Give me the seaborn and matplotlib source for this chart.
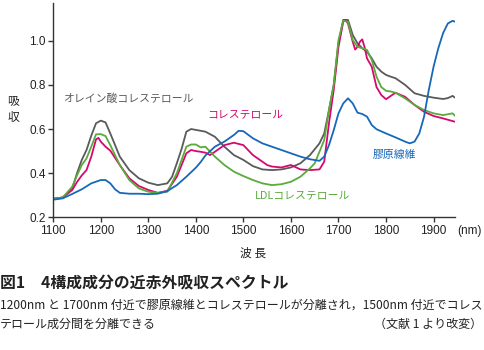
import matplotlib
matplotlib.use('Agg')
import matplotlib.pyplot as plt
import pandas as pd
import seaborn as sns

# ----------------------------------------------------------------------------------------------------------------------
# Data (wavelength nm, absorbance)

oleic_nm = [1100, 1120, 1140, 1150, 1160, 1170, 1180, 1190, 1200, 1210, 1220, 1240, 1260, 1280, 1300, 1320, 1340,
            1350, 1360, 1370, 1380, 1390, 1400, 1420, 1440, 1460, 1480, 1500, 1520, 1540, 1560, 1580, 1600, 1620,
            1640, 1660, 1670, 1680, 1690, 1700, 1710, 1720, 1730, 1740, 1750, 1760, 1770, 1780, 1790, 1800, 1810,
            1820, 1840, 1860, 1880, 1900, 1920, 1930, 1940, 1945]
oleic_abs = [0.285, 0.29, 0.33, 0.40, 0.46, 0.505, 0.57, 0.626, 0.638, 0.63, 0.58, 0.475, 0.414, 0.377, 0.357, 0.346,
             0.354, 0.384, 0.445, 0.51, 0.588, 0.60, 0.596, 0.588, 0.565, 0.52, 0.482, 0.46, 0.432, 0.417, 0.414,
             0.417, 0.426, 0.445, 0.482, 0.535, 0.58, 0.686, 0.80, 0.99, 1.094, 1.094, 1.026, 0.988, 0.966, 0.95,
             0.92, 0.882, 0.86, 0.845, 0.837, 0.83, 0.80, 0.762, 0.75, 0.742, 0.736, 0.74, 0.75, 0.742]

chol_nm = [1100, 1120, 1140, 1150, 1160, 1170, 1180, 1190, 1195, 1200, 1210, 1220, 1240, 1260, 1280, 1300, 1320, 1340,
           1360, 1370, 1380, 1390, 1400, 1410, 1420, 1430, 1440, 1460, 1480, 1500, 1520, 1540, 1550, 1560, 1580, 1600,
           1620, 1640, 1660, 1670, 1680, 1690, 1700, 1710, 1715, 1720, 1730, 1735, 1740, 1745, 1750, 1755, 1760, 1770,
           1780, 1790, 1800, 1810, 1820, 1840, 1860, 1880, 1900, 1920, 1945]
chol_abs = [0.283, 0.29, 0.324, 0.36, 0.39, 0.414, 0.475, 0.553, 0.56, 0.543, 0.52, 0.502, 0.437, 0.377, 0.342, 0.324,
            0.311, 0.32, 0.384, 0.437, 0.49, 0.505, 0.50, 0.497, 0.493, 0.482, 0.497, 0.527, 0.538, 0.527, 0.482,
            0.452, 0.437, 0.43, 0.426, 0.437, 0.417, 0.414, 0.417, 0.452, 0.626, 0.777, 0.972, 1.086, 1.094, 1.078,
            0.995, 0.96, 0.972, 0.995, 1.006, 0.97, 0.92, 0.882, 0.79, 0.754, 0.735, 0.75, 0.764, 0.746, 0.709,
            0.678, 0.659, 0.648, 0.633]

ldl_nm = [1100, 1120, 1140, 1150, 1160, 1170, 1180, 1190, 1200, 1210, 1220, 1240, 1260, 1280, 1300, 1320, 1340, 1360,
          1370, 1380, 1390, 1400, 1410, 1420, 1440, 1460, 1480, 1500, 1520, 1540, 1560, 1580, 1600, 1620, 1640, 1650,
          1660, 1670, 1680, 1690, 1700, 1710, 1720, 1730, 1740, 1750, 1760, 1770, 1780, 1790, 1800, 1810, 1820, 1840,
          1860, 1880, 1900, 1920, 1940, 1945]
ldl_abs = [0.283, 0.29, 0.339, 0.39, 0.437, 0.467, 0.52, 0.576, 0.577, 0.568, 0.527, 0.437, 0.369, 0.331, 0.316,
           0.311, 0.316, 0.40, 0.46, 0.52, 0.53, 0.53, 0.517, 0.52, 0.475, 0.437, 0.407, 0.387, 0.369, 0.354, 0.346,
           0.35, 0.361, 0.384, 0.422, 0.445, 0.497, 0.55, 0.686, 0.80, 1.003, 1.09, 1.086, 1.003, 0.972, 0.966,
           0.958, 0.913, 0.837, 0.79, 0.773, 0.77, 0.764, 0.739, 0.709, 0.686, 0.671, 0.663, 0.671, 0.66]

collagen_nm = [1100, 1120, 1140, 1160, 1180, 1200, 1210, 1220, 1230, 1240, 1260, 1280, 1300, 1320, 1340, 1360, 1380,
               1400, 1410, 1420, 1440, 1460, 1480, 1490, 1500, 1520, 1540, 1560, 1580, 1600, 1620, 1640, 1660, 1670,
               1680, 1690, 1700, 1710, 1720, 1730, 1740, 1750, 1760, 1770, 1780, 1800, 1820, 1840, 1850, 1860, 1870,
               1880, 1890, 1900, 1910, 1920, 1930, 1940, 1945]
collagen_abs = [0.28, 0.286, 0.306, 0.327, 0.354, 0.369, 0.369, 0.354, 0.327, 0.311, 0.307, 0.307, 0.305, 0.307,
                0.319, 0.346, 0.384, 0.425, 0.45, 0.48, 0.52, 0.543, 0.573, 0.592, 0.59, 0.558, 0.535, 0.52, 0.505,
                0.49, 0.475, 0.463, 0.456, 0.475, 0.527, 0.595, 0.671, 0.716, 0.739, 0.716, 0.674, 0.668, 0.656,
                0.618, 0.599, 0.58, 0.562, 0.543, 0.535, 0.543, 0.58, 0.656, 0.777, 0.882, 0.966, 1.034, 1.078,
                1.09, 1.086]

series_names = ['オレイン酸コレステロール', 'コレステロール', 'LDLコレステロール', '膠原線維']
series_colors = ['#5a5a5a', '#d6086e', '#5aaa3c', '#1768b9']

x_ticks = [1100, 1200, 1300, 1400, 1500, 1600, 1700, 1800, 1900]
y_ticks = [0.2, 0.4, 0.6, 0.8, 1.0]

# ----------------------------------------------------------------------------------------------------------------------
# Long table for seaborn

frames = []
for name, nm, ab in zip(series_names,
                        [oleic_nm, chol_nm, ldl_nm, collagen_nm],
                        [oleic_abs, chol_abs, ldl_abs, collagen_abs]):
    frames.append(pd.DataFrame({'nm': nm, 'abs': ab, 'sample': name}))
spec_df = pd.concat(frames, ignore_index=True)

sns.set_theme(style='white')
plt.rcParams['font.family'] = ['Noto Sans CJK JP', 'DejaVu Sans']

fig = plt.figure(figsize=(4.84, 3.5), dpi=100)
ax = fig.add_axes([0.110, 0.379, 0.830, 0.612])

sns.lineplot(data=spec_df, x='nm', y='abs', hue='sample', hue_order=series_names,
             palette=series_colors, estimator=None, sort=False, linewidth=1.3, legend=False, ax=ax)

ax.set_xlim(1100, 1945)
ax.set_ylim(0.2, 1.17)
ax.set_xticks(x_ticks)
ax.set_yticks(y_ticks)
ax.set_yticklabels([f'{v:.1f}' for v in y_ticks])
ax.set_xlabel('')
ax.set_ylabel('')
sns.despine(ax=ax)
for side in ['left', 'bottom']:
    ax.spines[side].set_color('#333333')
    ax.spines[side].set_linewidth(1.0)
ax.tick_params(axis='both', direction='out', length=3.5, width=1.0, color='#333333',
               labelsize=8.5, labelcolor='#222222', pad=2, left=True, bottom=True)
for lab in ax.get_xticklabels() + ax.get_yticklabels():
    lab.set_family('Liberation Sans')

# axis titles
ax.text(1950, 0.138, '(nm)', fontsize=8.5, color='#222222',
        ha='left', va='center', clip_on=False, family='Liberation Sans')
fig.text(13 / 484, 1 - 109 / 350, '吸\n収', fontsize=8.5, color='#222222', ha='center', va='center',
         linespacing=1.3)
fig.text(253 / 484, 1 - 253 / 350, '波 長', fontsize=8.5, color='#222222', ha='center', va='center')

# curve labels
ax.text(1120, 0.738, 'オレイン酸コレステロール', fontsize=7.8, color=series_colors[0], va='center')
ax.text(1425, 0.665, 'コレステロール', fontsize=7.8, color=series_colors[1], va='center')
ax.text(1525, 0.300, 'LDLコレステロール', fontsize=7.8, color=series_colors[2], va='center')
ax.text(1772, 0.482, '膠原線維', fontsize=7.8, color=series_colors[3], va='center')

# caption
fig.text(0.0, 1 - 283 / 350, '図1　4構成成分の近赤外吸収スペクトル', fontsize=11.4, fontweight='bold',
         color='#222222', ha='left', va='center')
fig.text(0.0, 1 - 305 / 350, '1200nm と 1700nm 付近で膠原線維とコレステロールが分離され，1500nm 付近でコレス',
         fontsize=8.65, color='#222222', ha='left', va='center')
fig.text(0.0, 1 - 324 / 350, 'テロール成分間を分離できる', fontsize=8.65, color='#222222', ha='left', va='center')
fig.text(0.997, 1 - 324 / 350, '（文献 1 より改変）', fontsize=8.65, color='#222222', ha='right', va='center')

fig.savefig('out.png', dpi=100, facecolor='white')
